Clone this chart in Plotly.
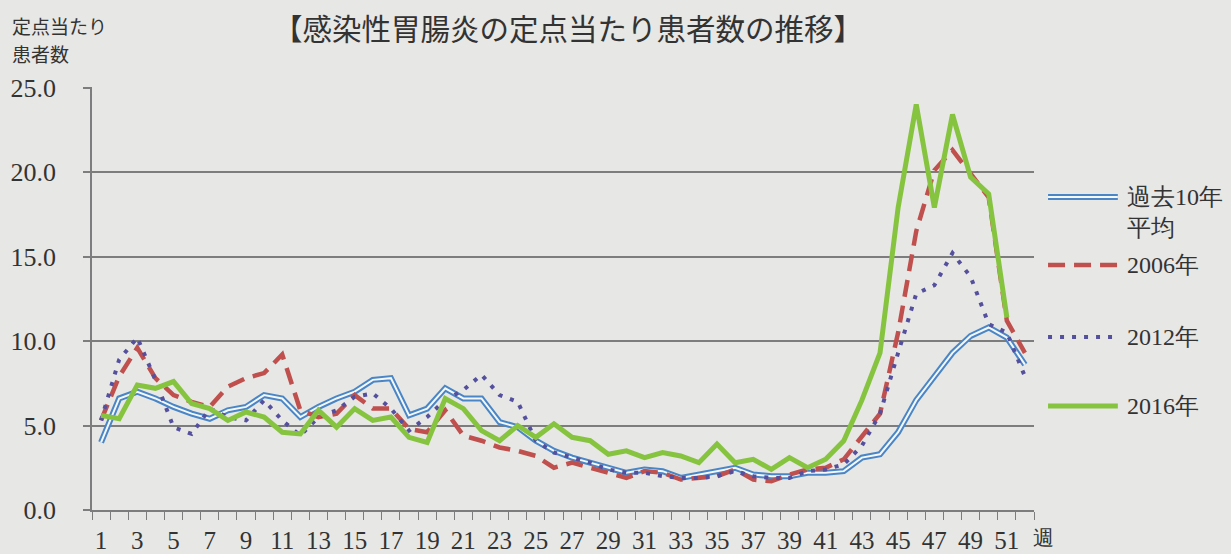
import plotly.graph_objects as go

weeks = list(range(1, 53))
tick_weeks = list(range(1, 52, 2))

avg10 = [4.0, 6.6, 7.0, 6.6, 6.1, 5.7, 5.4, 5.9, 6.1, 6.8, 6.6, 5.5, 6.1, 6.6, 7.0, 7.7, 7.8, 5.6, 6.0, 7.2,
         6.6, 6.6, 5.2, 4.9, 4.1, 3.5, 3.1, 2.8, 2.5, 2.2, 2.4, 2.3, 1.9, 2.1, 2.3, 2.5, 2.1, 2.0, 2.0, 2.2,
         2.2, 2.3, 3.1, 3.3, 4.6, 6.5, 7.9, 9.3, 10.3, 10.8, 10.2, 8.6]
y2006 = [5.3, 7.9, 9.6, 7.8, 6.8, 6.4, 6.1, 7.3, 7.8, 8.1, 9.2, 5.9, 5.5, 5.7, 6.8, 6.0, 6.0, 4.8, 4.6, 5.9,
         4.4, 4.1, 3.7, 3.5, 3.2, 2.5, 2.8, 2.5, 2.2, 1.9, 2.3, 2.2, 1.8, 1.9, 2.0, 2.4, 1.8, 1.7, 2.1, 2.4,
         2.5, 3.0, 4.3, 5.7, 10.5, 16.5, 20.1, 21.3, 19.9, 18.5, 11.2, 9.3]
y2012 = [5.3, 8.9, 10.2, 7.7, 4.9, 4.5, 6.0, 5.5, 5.3, 6.5, 5.3, 4.4, 5.5, 5.9, 6.7, 6.9, 6.0, 4.7, 5.5, 6.5,
         7.1, 8.0, 6.8, 6.4, 4.1, 3.4, 3.1, 2.8, 2.4, 2.2, 2.2, 2.0, 1.9, 1.9, 2.0, 2.3, 2.0, 1.9, 1.9, 2.3,
         2.4, 2.7, 3.8, 5.7, 9.3, 12.8, 13.3, 15.2, 13.8, 11.0, 10.5, 7.9]
y2016 = [5.6, 5.4, 7.4, 7.2, 7.6, 6.3, 6.0, 5.3, 5.8, 5.5, 4.6, 4.5, 5.9, 4.9, 6.0, 5.3, 5.5, 4.3, 4.0, 6.6,
         6.0, 4.7, 4.1, 5.0, 4.3, 5.1, 4.3, 4.1, 3.3, 3.5, 3.1, 3.4, 3.2, 2.8, 3.9, 2.8, 3.0, 2.4, 3.1, 2.5,
         3.0, 4.1, 6.5, 9.3, 17.9, 24.0, 17.9, 23.4, 19.7, 18.7, 11.4, None]

series_names = ["過去10年<br>平均", "2006年", "2012年", "2016年"]
y_title_lines = ["定点当たり", "患者数"]

BLUE = "#4a86c5"
RED = "#c0504d"
PURPLE = "#55509e"
GREEN = "#86c440"
GRID = "#7d7d7d"
BG = "#e7e7e5"
SERIF = "Liberation Serif"
TXT = "#333333"

fig = go.Figure()
fig.add_trace(go.Scatter(x=weeks, y=avg10, mode="lines", line=dict(color=BLUE, width=6),
                         showlegend=False, hoverinfo="skip"))
fig.add_trace(go.Scatter(x=weeks, y=avg10, mode="lines", line=dict(color="#f4f8fc", width=2),
                         showlegend=False, name=series_names[0]))
fig.add_trace(go.Scatter(x=weeks, y=y2006, mode="lines", line=dict(color=RED, width=4.5, dash="17px,9px"),
                         showlegend=False, name=series_names[1]))
fig.add_trace(go.Scatter(x=weeks, y=y2012, mode="lines", line=dict(color=PURPLE, width=4, dash="4px,8px"),
                         showlegend=False, name=series_names[2]))
fig.add_trace(go.Scatter(x=weeks, y=y2016, mode="lines", line=dict(color=GREEN, width=5),
                         showlegend=False, name=series_names[3]))

L_X0, L_X1, T_X = 1.0149, 1.089, 1.0966
leg_y = [0.740, 0.579, 0.409, 0.246]
leg_styles = [dict(color=BLUE, width=6), dict(color=RED, width=4.5, dash="17px,9px"),
              dict(color=PURPLE, width=4, dash="4px,8px"), dict(color=GREEN, width=5)]
shapes = []
annotations = []
for i, (yy, st) in enumerate(zip(leg_y, leg_styles)):
    shapes.append(dict(type="line", xref="paper", yref="paper", x0=L_X0, x1=L_X1, y0=yy, y1=yy, line=st))
    if i == 0:
        shapes.append(dict(type="line", xref="paper", yref="paper", x0=L_X0, x1=L_X1, y0=yy, y1=yy,
                           line=dict(color="#f4f8fc", width=2)))
    annotations.append(dict(xref="paper", yref="paper", x=T_X, y=yy, yanchor="top" if i == 0 else "middle",
                            yshift=15 if i == 0 else 0,
                            xanchor="left", text=series_names[i], showarrow=False, align="left",
                            font=dict(family=SERIF, size=24, color=TXT)))

annotations.append(dict(xref="paper", yref="paper", x=1.0096, y=0, yshift=-28, text="週", showarrow=False,
                        xanchor="center", yanchor="middle", font=dict(family=SERIF, size=21, color=TXT)))
for txt, ys in zip(y_title_lines, [62, 34]):
    annotations.append(dict(xref="paper", yref="paper", x=-0.0875, y=1.0, yshift=ys, xanchor="left",
                            yanchor="middle", text=txt, showarrow=False, align="left",
                            font=dict(family="Noto Sans CJK JP", size=19, color=TXT)))

fig.update_layout(
    width=1231, height=554,
    margin=dict(l=92, r=197, t=87, b=44, autoexpand=False),
    paper_bgcolor=BG, plot_bgcolor=BG,
    title=dict(text="【感染性胃腸炎の定点当たり患者数の推移】", x=0.4614, xanchor="center", y=0.946, yanchor="middle",
               font=dict(family="Noto Sans CJK JP", size=29.5, color=TXT)),
    shapes=shapes, annotations=annotations,
    showlegend=False,
)
fig.update_xaxes(range=[0.5, 52.5], tickmode="array", tickvals=tick_weeks, ticktext=[str(w) for w in tick_weeks],
                 ticks="", showgrid=False, showline=True, linecolor=GRID, linewidth=1.5, automargin=False,
                 tickfont=dict(family=SERIF, size=25, color=TXT), ticklabelstandoff=7,
                 minor=dict(tick0=0.5, dtick=1, ticks="outside", ticklen=8, tickcolor=GRID, tickwidth=1.2, showgrid=False),
                 zeroline=False)
fig.update_yaxes(range=[0, 25.03], tick0=0, dtick=5, tickformat=".1f", ticks="outside", ticklen=7, tickcolor=GRID,
                 tickwidth=1.5, automargin=False,
                 showgrid=True, gridcolor=GRID, gridwidth=1.5, showline=True, linecolor=GRID, linewidth=1.5,
                 zeroline=False, tickfont=dict(family=SERIF, size=26, color=TXT), ticklabelstandoff=22)

post = ("document.body.style.margin='0';document.body.style.padding='0';"
        "document.body.style.background='%s';document.body.style.overflow='hidden';" % BG)
fig.write_html("out.html", post_script=post, config={"displayModeBar": False})
